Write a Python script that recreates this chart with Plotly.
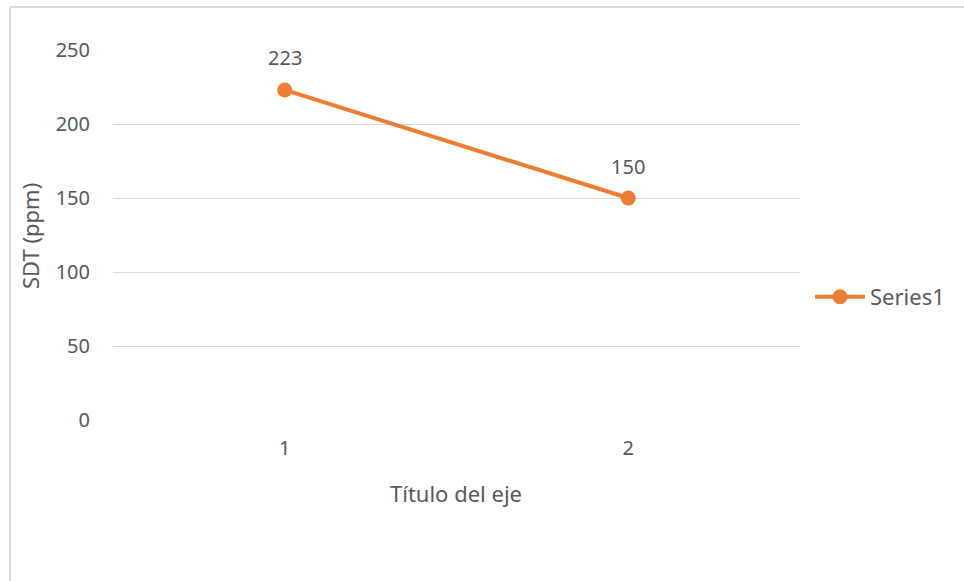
import plotly.graph_objects as go

# Data
categories = [1, 2]
values = [223, 150]
series_name = "Series1"
y_ticks = [0, 50, 100, 150, 200, 250]
x_title = "Título del eje"
y_title = "SDT (ppm)"

ORANGE = "#ED7D31"
TEXT = "#595959"
GRID = "#D9D9D9"
FONT = "Noto Sans"
FS = 20          # tick and value labels
FS_TITLE = 22    # axis titles
FS_LEGEND = 22

W, H = 964, 581
L, R, T, B = 113, 164, 50, 161
pw, ph = W - L - R, H - T - B

def px_x(px):
    return (px - L) / pw

def px_y(py):
    return (H - B - py) / ph

fig = go.Figure()
fig.add_trace(go.Scatter(
    x=categories, y=values, name=series_name,
    mode="lines+markers",
    line=dict(color=ORANGE, width=4),
    marker=dict(color=ORANGE, size=15),
))

# Value labels above each point
for c, v in zip(categories, values):
    fig.add_annotation(x=c, y=v, text=str(v), showarrow=False,
                       xanchor="center", yanchor="middle",
                       yshift=32, font=dict(family=FONT, size=FS, color=TEXT))

# Axis titles
fig.add_annotation(x=px_x(456), y=px_y(493), xref="paper", yref="paper",
                   xanchor="center", yanchor="middle",
                   text=x_title, showarrow=False,
                   font=dict(family=FONT, size=FS_TITLE, color=TEXT))
fig.add_annotation(x=px_x(30), y=px_y(236), xref="paper", yref="paper",
                   xanchor="center", yanchor="middle",
                   text=y_title, showarrow=False, textangle=-90,
                   font=dict(family=FONT, size=FS_TITLE, color=TEXT))

# Chart-area border (left and top edges)
border = dict(color=GRID, width=2)
fig.add_shape(type="line", xref="paper", yref="paper",
              x0=px_x(10), x1=px_x(10), y0=px_y(7), y1=px_y(590), line=border)
fig.add_shape(type="line", xref="paper", yref="paper",
              x0=px_x(10), x1=px_x(970), y0=px_y(7), y1=px_y(7), line=border)

fig.update_layout(
    width=W, height=H,
    margin=dict(l=L, r=R, t=T, b=B),
    paper_bgcolor="white", plot_bgcolor="white",
    font=dict(family=FONT, size=FS, color=TEXT),
    showlegend=True,
    legend=dict(x=px_x(810), y=px_y(297), xanchor="left", yanchor="middle",
                itemwidth=50,
                font=dict(family=FONT, size=FS_LEGEND, color=TEXT),
                bgcolor="rgba(0,0,0,0)"),
    xaxis=dict(range=[0.5, 2.5], tickvals=categories,
               ticktext=[str(c) for c in categories],
               showgrid=False, zeroline=False, showline=False,
               ticks="", ticklabelstandoff=14,
               tickfont=dict(family=FONT, size=FS, color=TEXT)),
    yaxis=dict(range=[0, 250], tickvals=y_ticks,
               showgrid=True, gridcolor=GRID, gridwidth=1,
               zeroline=False, showline=False, ticks="",
               ticklabelstandoff=22,
               tickfont=dict(family=FONT, size=FS, color=TEXT)),
)

fig.write_html("out.html")
